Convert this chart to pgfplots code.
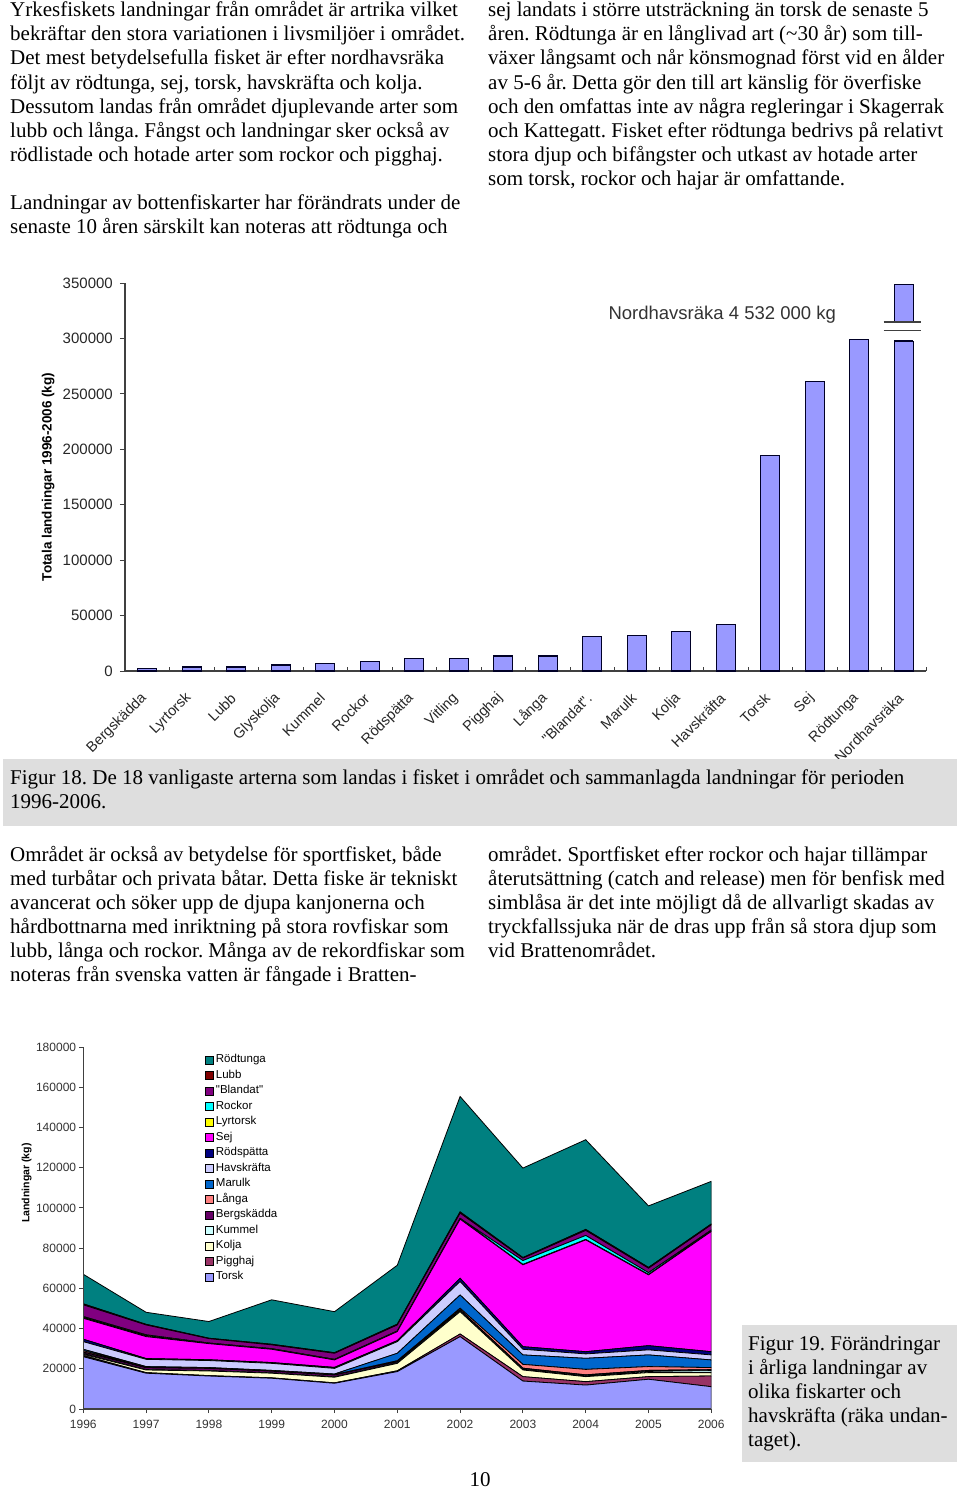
\documentclass[border=0pt]{standalone}
\usepackage{fontspec}
\setmainfont{Liberation Serif}
\newfontfamily\arial{Liberation Sans}
\usepackage{pgfplots}
\usepackage{pgfplotstable}
\pgfplotsset{compat=1.18}

% Excel default series palette
\definecolor{cTorsk}{HTML}{9999FF}
\definecolor{cPigghaj}{HTML}{993366}
\definecolor{cKolja}{HTML}{FFFFCC}
\definecolor{cKummel}{HTML}{CCFFFF}
\definecolor{cBergskadda}{HTML}{660066}
\definecolor{cLanga}{HTML}{FF8080}
\definecolor{cMarulk}{HTML}{0066CC}
\definecolor{cHavskrafta}{HTML}{CCCCFF}
\definecolor{cRodspatta}{HTML}{000080}
\definecolor{cSej}{HTML}{FF00FF}
\definecolor{cLyrtorsk}{HTML}{FFFF00}
\definecolor{cRockor}{HTML}{00FFFF}
\definecolor{cBlandat}{HTML}{800080}
\definecolor{cLubb}{HTML}{800000}
\definecolor{cRodtunga}{HTML}{008080}
\definecolor{capgray}{HTML}{DEDEDE}
\definecolor{axgray}{HTML}{404040}

% totals 1996-2006 per species (kg), Nordhavsraka cut at the top
\pgfplotstableread{
idx val
0 2100
1 3600
2 3600
3 5400
4 6600
5 8700
6 11100
7 11100
8 13500
9 13500
10 31000
11 31900
12 35500
13 42100
14 194500
15 261300
16 299200
17 349000
}\bardata

% yearly landings (kg)
\pgfplotstableread{
year Torsk Pigghaj Kolja Kummel Bergskadda Langa Marulk Havskrafta Rodspatta Sej Lyrtorsk Rockor Blandat Lubb Rodtunga
1996 26000 600 600 400 700 700 700 3800 1200 10400 500 400 5800 500 14700
1997 17800 300 1300 200 900 300 300 3600 400 10900 600 300 4900 300 6000
1998 16400 200 2300 200 1100 200 200 3500 400 8000 200 100 2200 200 8300
1999 15300 200 2300 200 800 200 200 3500 400 6600 200 100 1900 300 22100
2000 12800 200 2800 200 900 200 300 2800 500 3700 200 100 3000 300 20400
2001 18600 400 3700 300 600 400 3700 5800 500 4500 200 100 3000 400 29300
2002 36000 1300 11100 400 500 800 6600 6700 1600 29400 200 200 2600 600 57400
2003 13900 2200 3300 400 500 1900 4700 2800 1300 40700 200 1900 1200 300 44500
2004 11900 1700 2500 400 500 2700 5500 2200 1100 55600 200 2000 2500 500 44600
2005 14800 1300 2000 600 500 1900 5800 2500 2100 35200 200 900 2200 400 30600
2006 11100 5300 1700 1000 500 1000 3800 2500 1600 59800 200 500 2600 400 21200
}\areadata

\newcommand{\tline}[3]{\node[anchor=base west, inner sep=0pt] at (#1pt,-#2pt) {#3};}

\pgfplotsset{ar/.style={fill=#1, draw=black, line width=0.8pt}}

\begin{document}
\frenchspacing
\fontsize{21}{24}\selectfont
\begin{tikzpicture}
\useasboundingbox (0,0) rectangle (960pt,-1488pt);

% ---- text, top
\tline{10}{17}{Yrkesfiskets landningar från området är artrika vilket}
\tline{10}{41}{bekräftar den stora variationen i livsmiljöer i området.}
\tline{10}{65}{Det mest betydelsefulla fisket är efter nordhavsräka}
\tline{10}{89}{följt av rödtunga, sej, torsk, havskräfta och kolja.}
\tline{10}{113}{Dessutom landas från området djuplevande arter som}
\tline{10}{137}{lubb och långa. Fångst och landningar sker också av}
\tline{10}{161}{rödlistade och hotade arter som rockor och pigghaj.}
\tline{10}{209}{Landningar av bottenfiskarter har förändrats under de}
\tline{10}{233}{senaste 10 åren särskilt kan noteras att rödtunga och}

\tline{488}{17}{sej landats i större utsträckning än torsk de senaste 5}
\tline{488}{41}{åren. Rödtunga är en långlivad art (\textasciitilde30 år) som till-}
\tline{488}{65}{växer långsamt och når könsmognad först vid en ålder}
\tline{488}{89}{av 5-6 år. Detta gör den till art känslig för överfiske}
\tline{488}{113}{och den omfattas inte av några regleringar i Skagerrak}
\tline{488}{137}{och Kattegatt. Fisket efter rödtunga bedrivs på relativt}
\tline{488}{161}{stora djup och bifångster och utkast av hotade arter}
\tline{488}{185}{som torsk, rockor och hajar är omfattande.}

% ---- Figur 18
\begin{axis}[
  at={(125pt,-671pt)}, anchor=south west,
  width=801pt, height=388pt, scale only axis,
  xmin=-0.5, xmax=17.5, ymin=0, ymax=350000,
  enlargelimits=false, clip=false,
  axis x line=bottom, axis y line=left,
  axis line style={-, draw=axgray, line width=1.3pt},
  ybar, bar width=19pt,
  xtick={0,...,17},
  xticklabels={Bergskädda,Lyrtorsk,Lubb,Glyskolja,Kummel,Rockor,Rödspätta,Vitling,Pigghaj,Långa,"Blandat".,Marulk,Kolja,Havskräfta,Torsk,Sej,Rödtunga,Nordhavsräka},
  major x tick style={draw=none},
  ytick={0,50000,...,350000},
  scaled y ticks=false,
  yticklabel style={/pgf/number format/fixed, /pgf/number format/1000 sep={}},
  tick align=outside, major tick length=5pt,
  tick style={draw=axgray, line width=1pt},
  /pgf/number format/assume math mode=true,
  yticklabel style={font=\arial\fontsize{15}{17}\selectfont, text=black!85},
  xticklabel style={font=\arial\fontsize{14.5}{16}\selectfont, text=black!85,
    rotate=45, anchor=east, yshift=-12pt, xshift=-9pt},
  ylabel={Totala landningar 1996-2006 (kg)},
  every axis y label/.style={at={(axis description cs:-0.096,0.5)}, rotate=90,
    anchor=center, font=\arial\bfseries\fontsize{13.5}{15}\selectfont},
]
\addplot[fill=cTorsk, draw=black!85!blue, line width=1.2pt] table[x=idx, y=val]{\bardata};
% axis break on the shrimp bar
\fill[white] (axis cs:16.74,297700) rectangle (axis cs:17.26,314800);
\draw[black!85!blue, line width=1.2pt] (axis cs:16.7865,297700) -- (axis cs:17.2135,297700);
\draw[axgray, line width=1.2pt] (axis cs:16.55,307300) -- (axis cs:17.38,307300);
\draw[axgray, line width=1.2pt] (axis cs:16.55,314800) -- (axis cs:17.38,314800);
\pgfplotsinvokeforeach{-0.5,0.5,...,17.5}{
  \draw[axgray, line width=1pt] (axis cs:#1,0) -- ++(0pt,4pt);
}
\node[font=\arial\fontsize{18.5}{20}\selectfont, text=black!80] at (axis cs:12.92,321500) {Nordhavsräka 4 532 000 kg};
\end{axis}

\fill[capgray] (3pt,-759pt) rectangle (957pt,-826pt);
\tline{10}{784}{Figur 18. De 18 vanligaste arterna som landas i fisket i området och sammanlagda landningar för perioden}
\tline{10}{808}{1996-2006.}

% ---- text, middle
\tline{10}{861}{Området är också av betydelse för sportfisket, både}
\tline{10}{885}{med turbåtar och privata båtar. Detta fiske är tekniskt}
\tline{10}{909}{avancerat och söker upp de djupa kanjonerna och}
\tline{10}{933}{hårdbottnarna med inriktning på stora rovfiskar som}
\tline{10}{957}{lubb, långa och rockor. Många av de rekordfiskar som}
\tline{10}{981}{noteras från svenska vatten är fångade i Bratten-}

\tline{488}{861}{området. Sportfisket efter rockor och hajar tillämpar}
\tline{488}{885}{återutsättning (catch and release) men för benfisk med}
\tline{488}{909}{simblåsa är det inte möjligt då de allvarligt skadas av}
\tline{488}{933}{tryckfallssjuka när de dras upp från så stora djup som}
\tline{488}{957}{vid Brattenområdet.}

% ---- Figur 19
\begin{axis}[
  at={(83.3pt,-1409pt)}, anchor=south west,
  width=628pt, height=362pt, scale only axis,
  xmin=1996, xmax=2006, ymin=0, ymax=180000,
  enlargelimits=false, axis on top,
  axis x line=bottom, axis y line=left,
  axis line style={-, draw=axgray, line width=1.1pt},
  stack plots=y,
  xtick={1996,...,2006}, ytick={0,20000,...,180000},
  scaled y ticks=false,
  yticklabel style={/pgf/number format/fixed, /pgf/number format/1000 sep={}, xshift=4pt},
  xticklabel style={/pgf/number format/1000 sep={}},
  tick align=outside, major tick length=4pt,
  tick style={draw=axgray, line width=0.9pt},
  /pgf/number format/assume math mode=true,
  tick label style={font=\arial\fontsize{12}{14}\selectfont, text=black!80},
  ylabel={Landningar (kg)},
  every axis y label/.style={at={(axis description cs:-0.09,0.624)}, rotate=90,
    anchor=center, font=\arial\bfseries\fontsize{10.5}{12}\selectfont},
  reverse legend,
  legend cell align=left,
  legend image code/.code={\draw[#1, line width=0.6pt] (0pt,-4pt) rectangle (8pt,4pt);},
  legend style={at={(axis description cs:0.194,0.98)}, anchor=north west,
    draw=none, fill=none, inner sep=0pt, row sep=4pt, column sep=2pt,
    font=\arial\fontsize{11.5}{13}\selectfont,
    nodes={inner sep=0pt, text height=8.5pt, text depth=3pt}},
]
\addplot[ar=cTorsk] table[x=year, y=Torsk]{\areadata} \closedcycle;
\addlegendentry{Torsk}
\addplot[ar=cPigghaj] table[x=year, y=Pigghaj]{\areadata} \closedcycle;
\addlegendentry{Pigghaj}
\addplot[ar=cKolja] table[x=year, y=Kolja]{\areadata} \closedcycle;
\addlegendentry{Kolja}
\addplot[ar=cKummel] table[x=year, y=Kummel]{\areadata} \closedcycle;
\addlegendentry{Kummel}
\addplot[ar=cBergskadda] table[x=year, y=Bergskadda]{\areadata} \closedcycle;
\addlegendentry{Bergskädda}
\addplot[ar=cLanga] table[x=year, y=Langa]{\areadata} \closedcycle;
\addlegendentry{Långa}
\addplot[ar=cMarulk] table[x=year, y=Marulk]{\areadata} \closedcycle;
\addlegendentry{Marulk}
\addplot[ar=cHavskrafta] table[x=year, y=Havskrafta]{\areadata} \closedcycle;
\addlegendentry{Havskräfta}
\addplot[ar=cRodspatta] table[x=year, y=Rodspatta]{\areadata} \closedcycle;
\addlegendentry{Rödspätta}
\addplot[ar=cSej] table[x=year, y=Sej]{\areadata} \closedcycle;
\addlegendentry{Sej}
\addplot[ar=cLyrtorsk] table[x=year, y=Lyrtorsk]{\areadata} \closedcycle;
\addlegendentry{Lyrtorsk}
\addplot[ar=cRockor] table[x=year, y=Rockor]{\areadata} \closedcycle;
\addlegendentry{Rockor}
\addplot[ar=cBlandat] table[x=year, y=Blandat]{\areadata} \closedcycle;
\addlegendentry{"Blandat"}
\addplot[ar=cLubb] table[x=year, y=Lubb]{\areadata} \closedcycle;
\addlegendentry{Lubb}
\addplot[ar=cRodtunga] table[x=year, y=Rodtunga]{\areadata} \closedcycle;
\addlegendentry{Rödtunga}
\end{axis}

\fill[capgray] (742pt,-1325pt) rectangle (957pt,-1462pt);
\tline{748}{1350}{Figur 19. Förändringar}
\tline{748}{1374}{i årliga landningar av}
\tline{748}{1398}{olika fiskarter och}
\tline{748}{1422}{havskräfta (räka undan-}
\tline{748}{1446}{taget).}

\node[anchor=base, inner sep=0pt] at (480pt,-1486pt) {10};
\end{tikzpicture}
\end{document}
